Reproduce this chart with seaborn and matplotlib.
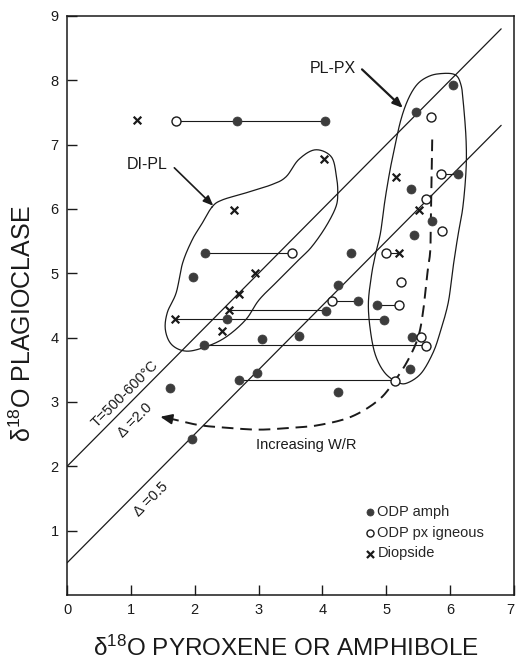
import numpy as np
import pandas as pd
import matplotlib
matplotlib.use("Agg")
import matplotlib.pyplot as plt
import matplotlib.transforms as mtransforms
import seaborn as sns

# ---------------- data ----------------
amph_x = [2.66, 4.04, 2.16, 1.98, 2.51, 2.15, 3.05, 3.63, 1.62, 2.70, 2.98, 1.96,
          6.05, 5.47, 6.13, 5.39, 5.72, 5.44, 4.45, 4.24, 4.55, 4.86, 4.06, 4.97,
          5.40, 5.37, 4.24]
amph_y = [7.37, 7.37, 5.31, 4.94, 4.29, 3.89, 3.98, 4.03, 3.21, 3.34, 3.45, 2.42,
          7.92, 7.50, 6.55, 6.31, 5.82, 5.59, 5.31, 4.82, 4.57, 4.51, 4.42, 4.28,
          4.01, 3.52, 3.15]

px_x = [1.71, 3.53, 5.70, 5.86, 5.63, 5.87, 4.99, 5.23, 4.15, 5.20, 5.54, 5.63, 5.14]
px_y = [7.37, 5.31, 7.43, 6.55, 6.16, 5.65, 5.31, 4.86, 4.57, 4.51, 4.01, 3.87, 3.33]

di_x = [1.10, 2.62, 2.95, 2.70, 2.54, 1.69, 2.43, 4.03, 5.15, 5.52, 5.20]
di_y = [7.38, 5.98, 5.01, 4.68, 4.43, 4.29, 4.10, 6.78, 6.50, 5.99, 5.31]

# tie lines between analyses of the same sample
tie_x0 = [1.71, 2.16, 1.69, 2.54, 2.15, 2.70, 5.86, 4.99, 4.15, 4.86]
tie_x1 = [4.04, 3.53, 4.97, 4.06, 5.63, 5.14, 6.13, 5.20, 4.55, 5.20]
tie_y = [7.37, 5.31, 4.285, 4.425, 3.88, 3.335, 6.55, 5.31, 4.57, 4.51]

# equilibrium lines  plag = px + delta
deltas = [2.0, 0.5]
line_x = [0.0, 6.8]

# outlines of fields
dipl_x = [2.27, 2.43, 2.80, 3.21, 3.43, 3.63, 3.89, 4.14, 4.22, 4.24, 4.21, 4.05,
          3.83, 3.63, 3.32, 3.01, 2.80, 2.49, 2.18, 1.87, 1.64, 1.54, 1.57, 1.71,
          1.81, 1.96, 2.10]
dipl_y = [6.03, 6.14, 6.25, 6.38, 6.50, 6.77, 6.92, 6.81, 6.50, 6.25, 6.03, 5.72,
          5.41, 5.21, 4.90, 4.59, 4.28, 4.01, 3.86, 3.79, 3.89, 4.12, 4.39, 4.70,
          5.16, 5.52, 5.75]

plpx_x = [6.07, 5.81, 5.62, 5.47, 5.34, 5.23, 5.14, 5.06, 4.98, 4.91, 4.83, 4.77,
          4.72, 4.75, 4.83, 4.98, 5.19, 5.34, 5.55, 5.73, 5.84, 5.97, 6.04, 6.12,
          6.20, 6.25, 6.25, 6.21, 6.17]
plpx_y = [8.09, 8.10, 8.04, 7.92, 7.70, 7.39, 7.00, 6.61, 6.14, 5.63, 5.29, 4.98,
          4.54, 4.12, 3.73, 3.45, 3.30, 3.30, 3.45, 3.76, 4.07, 4.54, 5.05, 5.57,
          6.03, 6.61, 7.08, 7.62, 7.93]

# dashed "Increasing W/R" trend
wr_x = [5.72, 5.70, 5.69, 5.65, 5.58, 5.50, 5.34, 5.14, 4.88, 4.45, 3.94, 3.52,
        3.01, 2.49, 2.07, 1.71, 1.46]
wr_y = [7.08, 5.99, 5.37, 5.05, 4.43, 4.01, 3.65, 3.34, 3.03, 2.77, 2.64, 2.60,
        2.57, 2.60, 2.64, 2.72, 2.77]

x_ticks = [0, 1, 2, 3, 4, 5, 6, 7]
y_ticks = [1, 2, 3, 4, 5, 6, 7, 8, 9]


def catmull(xs, ys, closed=False, n=16):
    P = np.column_stack([xs, ys])
    if closed:
        P = np.vstack([P[-1], P, P[0], P[1]])
    else:
        P = np.vstack([P[0], P, P[-1]])
    out = []
    t = np.linspace(0, 1, n, endpoint=False)[:, None]
    for i in range(1, len(P) - 2):
        p0, p1, p2, p3 = P[i - 1], P[i], P[i + 1], P[i + 2]
        seg = 0.5 * ((2 * p1) + (-p0 + p2) * t + (2 * p0 - 5 * p1 + 4 * p2 - p3) * t ** 2
                     + (-p0 + 3 * p1 - 3 * p2 + p3) * t ** 3)
        out.append(seg)
    out.append(P[-2][None, :])
    out = np.vstack(out)
    return out[:, 0], out[:, 1]


# ---------------- style ----------------
sns.set_style("ticks")
plt.rcParams["font.family"] = ["Liberation Sans", "DejaVu Sans"]
plt.rcParams["mathtext.default"] = "regular"

fig = plt.figure(figsize=(5.16, 6.63), dpi=100)
ax = fig.add_axes([0.130, 0.1026, 0.866, 0.8733])

ink = "#1a1a1a"
dot = "#3c3c3c"

# equilibrium lines
for d in deltas:
    ax.plot(line_x, [line_x[0] + d, line_x[1] + d], color=ink, lw=0.9, zorder=2)

# field outlines
cx, cy = catmull(dipl_x, dipl_y, closed=True)
ax.plot(cx, cy, color=ink, lw=0.9, zorder=2)
cx, cy = catmull(plpx_x, plpx_y, closed=True)
ax.plot(cx, cy, color=ink, lw=0.9, zorder=2)

# dashed trend with arrow
wx, wy = catmull(wr_x, wr_y, closed=False)
ax.plot(wx[:-3], wy[:-3], color=ink, lw=1.4, ls=(0, (6, 3.5)), zorder=2)
ax.annotate("", xy=(wx[-1], wy[-1]), xytext=(wx[-12], wy[-12]),
            arrowprops=dict(arrowstyle="-|>,head_length=0.7,head_width=0.3",
                            color=ink, lw=1.4, shrinkA=0, shrinkB=0), zorder=3)

# tie lines
for a, b, yy in zip(tie_x0, tie_x1, tie_y):
    ax.plot([a, b], [yy, yy], color=ink, lw=0.8, zorder=2)

df_a = pd.DataFrame({"x": amph_x, "y": amph_y})
df_p = pd.DataFrame({"x": px_x, "y": px_y})
df_d = pd.DataFrame({"x": di_x, "y": di_y})

sns.scatterplot(data=df_a, x="x", y="y", ax=ax, marker="o", s=42, color=dot,
                edgecolor=dot, linewidth=0.5, zorder=4, label="ODP amph")
sns.scatterplot(data=df_p, x="x", y="y", ax=ax, marker="o", s=42, facecolor="white",
                edgecolor=ink, linewidth=1.0, zorder=4, label="ODP px igneous")
sns.scatterplot(data=df_d, x="x", y="y", ax=ax, marker="x", s=30, color=ink,
                linewidth=1.6, zorder=4, label="Diopside")

leg = ax.legend(loc="upper left", bbox_to_anchor=(0.670, 0.155), frameon=False,
                fontsize=10.5, handlelength=0.5, handletextpad=0.25,
                labelspacing=0.45, borderpad=0, borderaxespad=0)
for h in leg.legend_handles:
    h.set_sizes([26])

# annotations
ax.text(4.16, 8.19, "PL-PX", fontsize=11.5, ha="center", va="center", color=ink)
ax.annotate("", xy=(5.26, 7.57), xytext=(4.62, 8.17),
            arrowprops=dict(arrowstyle="-|>,head_length=0.6,head_width=0.25",
                            color=ink, lw=1.6, shrinkA=0, shrinkB=0))
ax.text(1.26, 6.69, "DI-PL", fontsize=11.5, ha="center", va="center", color=ink)
ax.annotate("", xy=(2.29, 6.05), xytext=(1.68, 6.64),
            arrowprops=dict(arrowstyle="-|>,head_length=0.6,head_width=0.25",
                            color=ink, lw=1.2, shrinkA=0, shrinkB=0))
ax.text(0.90, 3.12, "T=500-600°C", fontsize=10.5, rotation=45, ha="center",
        va="center", rotation_mode="anchor", color=ink)
ax.text(1.07, 2.71, "Δ =2.0", fontsize=10.5, rotation=45, ha="center",
        va="center", rotation_mode="anchor", color=ink)
ax.text(1.32, 1.48, "Δ =0.5", fontsize=10.5, rotation=45, ha="center",
        va="center", rotation_mode="anchor", color=ink)
ax.text(3.75, 2.33, "Increasing W/R", fontsize=10.5, ha="center", va="center", color=ink)

# axes
ax.set_xlim(0, 7)
ax.set_ylim(0, 9)
ax.set_xticks(x_ticks)
ax.set_yticks(y_ticks)
ax.tick_params(direction="in", length=7, width=1.0, labelsize=10.5, colors=ink, pad=6)
for s in ax.spines.values():
    s.set_linewidth(1.1)
    s.set_color(ink)
ax.set_xlabel("δ$^{18}$O PYROXENE OR AMPHIBOLE", fontsize=17.5, color=ink, va="center")
ax.set_ylabel("δ$^{18}$O PLAGIOCLASE", fontsize=18, color=ink, va="center")
ax.xaxis.set_label_coords(0.49, -0.092)
ax.yaxis.set_label_coords(-0.098, 0.468)

# keep the last x tick label inside the figure
last = ax.get_xticklabels()[-1]
last.set_transform(last.get_transform() +
                   mtransforms.ScaledTranslation(-4 / 100, 0, fig.dpi_scale_trans))

fig.savefig("out.png", dpi=100)
